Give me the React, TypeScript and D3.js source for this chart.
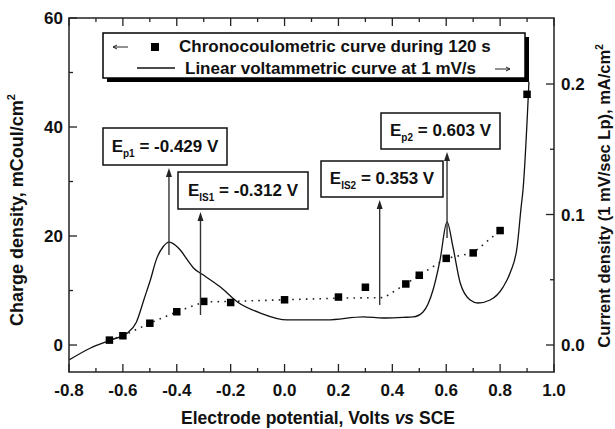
import React from 'react';
import * as d3 from 'd3';

const W = 615;
const H = 429;
const plot = { left: 69, right: 554, top: 18, bottom: 372 };

// Chronocoulometric charge density after 120 s (left axis, mCoul/cm²)
const chargePotential = [-0.65, -0.6, -0.5, -0.4, -0.3, -0.2, 0.0, 0.2, 0.3, 0.45, 0.5, 0.6, 0.7, 0.8, 0.9];
const chargeDensity = [0.9, 1.7, 4.0, 6.1, 8.0, 7.8, 8.3, 8.8, 10.6, 11.2, 12.8, 15.9, 16.9, 21.0, 46.0];

// Dotted guide drawn through the charge points
const guidePotential = [-0.65, -0.6, -0.5, -0.4, -0.3, -0.2, 0.0, 0.2, 0.37, 0.45, 0.5, 0.6, 0.7, 0.8];
const guideCharge = [0.9, 1.7, 4.0, 6.1, 7.9, 8.0, 8.3, 8.6, 8.7, 11.2, 12.8, 15.9, 16.9, 21.0];

// Linear sweep voltammogram at 1 mV/s (right axis, mA/cm²)
const voltPotential = [
  -0.8, -0.72, -0.646, -0.583, -0.55, -0.52, -0.498, -0.475, -0.45, -0.429, -0.405, -0.387, -0.36,
  -0.338, -0.301, -0.238, -0.175, -0.09, 0.01, 0.095, 0.158, 0.292, 0.366, 0.44, 0.477, 0.514,
  0.551, 0.577, 0.603, 0.625, 0.652, 0.689, 0.718, 0.763, 0.811, 0.837, 0.863, 0.878, 0.885, 0.907,
];
const voltCurrent = [
  -0.0115, -0.0023, 0.0038, 0.0092, 0.0175, 0.036, 0.0498, 0.066, 0.0755, 0.0789, 0.0765, 0.0728, 0.065,
  0.059, 0.0536, 0.0444, 0.033, 0.0245, 0.0192, 0.0192, 0.0192, 0.0215, 0.0207, 0.0212, 0.0215, 0.0253,
  0.0421, 0.0651, 0.0943, 0.0751, 0.0475, 0.0345, 0.0322, 0.0345, 0.0444, 0.0552, 0.0751, 0.1057, 0.1188, 0.2015,
];

// Axis ticks
const xTicks = [-0.8, -0.6, -0.4, -0.2, 0.0, 0.2, 0.4, 0.6, 0.8, 1.0];
const xMinorTicks = [-0.7, -0.5, -0.3, -0.1, 0.1, 0.3, 0.5, 0.7, 0.9];
const leftTicks = [0, 20, 40, 60];
const leftMinorTicks = [10, 30, 50];
const rightTicks = [0.0, 0.1, 0.2];
const rightMinorTicks = [0.05, 0.15];

// Characteristic potentials (V) and where their arrows start on the current axis
const markerKeys = ['p1', 'IS1', 'IS2', 'p2'];
const markerPotentials = [-0.429, -0.312, 0.353, 0.603];
const markerBaseCurrent = [0.069, 0.023, 0.0307, 0.082];

const FONT = '"Liberation Sans", Arial, Helvetica, sans-serif';

export default function App() {
  const x = d3.scaleLinear().domain([-0.8, 1.0]).range([plot.left, plot.right]);
  const yL = d3.scaleLinear().domain([-4.95, 60]).range([plot.bottom, plot.top]);
  const yR = d3.scaleLinear().domain([-0.0207, 0.2506]).range([plot.bottom, plot.top]);

  const voltLine = d3
    .line<number>()
    .x((_, i) => x(voltPotential[i]))
    .y((d) => yR(d))
    .curve(d3.curveMonotoneX)(voltCurrent) as string;

  const guideLine = d3
    .line<number>()
    .x((_, i) => x(guidePotential[i]))
    .y((d) => yL(d))(guideCharge) as string;

  // annotation box layout (pixels)
  const boxes = [
    { x: 103, y: 128, w: 124, h: 37, text: ' = -0.429 V' },
    { x: 178, y: 172, w: 130, h: 37, text: ' = -0.312 V' },
    { x: 321, y: 161, w: 122, h: 36, text: ' = 0.353 V' },
    { x: 381, y: 113, w: 119, h: 36, text: ' = 0.603 V' },
  ];

  const ms = 7.5;

  return (
    <svg
      width={W}
      height={H}
      viewBox={`0 0 ${W} ${H}`}
      style={{ position: 'absolute', left: 0, top: 0, background: '#fff' }}
      fontFamily={FONT}
    >
      <rect x={0} y={0} width={W} height={H} fill="#fff" />
      <defs>
        <clipPath id="plotClip">
          <rect x={plot.left} y={plot.top} width={plot.right - plot.left} height={plot.bottom - plot.top} />
        </clipPath>
      </defs>

      {/* voltammogram */}
      <path d={voltLine} fill="none" stroke="#111" strokeWidth={1.3} clipPath="url(#plotClip)" />

      {/* dotted guide through charge points */}
      <path d={guideLine} fill="none" stroke="#222" strokeWidth={1.6} strokeDasharray="1.6 5.2" />

      {/* charge squares */}
      {chargeDensity.map((v, i) => (
        <rect
          key={i}
          x={x(chargePotential[i]) - ms / 2}
          y={yL(v) - ms / 2}
          width={ms}
          height={ms}
          fill="#000"
        />
      ))}

      {/* annotation arrows */}
      {markerPotentials.map((p, i) => {
        const ax = x(p);
        const tipY = boxes[i].y + boxes[i].h + 3;
        const baseY = yR(markerBaseCurrent[i]);
        return (
          <g key={markerKeys[i]}>
            <line x1={ax} x2={ax} y1={baseY} y2={tipY + 6} stroke="#333" strokeWidth={1.4} />
            <path d={`M${ax},${tipY} L${ax - 3},${tipY + 9} L${ax + 3},${tipY + 9} Z`} fill="#222" />
          </g>
        );
      })}

      {/* annotation boxes */}
      {boxes.map((b, i) => (
        <g key={markerKeys[i]}>
          <rect x={b.x} y={b.y} width={b.w} height={b.h} fill="#fff" stroke="#111" strokeWidth={1.5} />
          <text
            x={b.x + b.w / 2}
            y={b.y + b.h / 2 + 5}
            textAnchor="middle"
            fontWeight="bold"
            fontSize={17}
            fill="#111"
          >
            <tspan>E</tspan>
            <tspan fontSize={10} dy={5}>
              {markerKeys[i]}
            </tspan>
            <tspan dy={-5}>{b.text}</tspan>
          </text>
        </g>
      ))}

      {/* frame */}
      <rect
        x={plot.left}
        y={plot.top}
        width={plot.right - plot.left}
        height={plot.bottom - plot.top}
        fill="none"
        stroke="#222"
        strokeWidth={1.5}
      />

      {/* bottom & top ticks */}
      {xTicks.map((t) => (
        <g key={`xt${t}`}>
          <line x1={x(t)} x2={x(t)} y1={plot.bottom} y2={plot.bottom - 8} stroke="#222" strokeWidth={1.3} />
          <line x1={x(t)} x2={x(t)} y1={plot.top} y2={plot.top + 8} stroke="#222" strokeWidth={1.3} />
          <text x={x(t)} y={396} textAnchor="middle" fontWeight="bold" fontSize={17} fill="#111">
            {t.toFixed(1)}
          </text>
        </g>
      ))}
      {xMinorTicks.map((t) => (
        <g key={`xm${t}`}>
          <line x1={x(t)} x2={x(t)} y1={plot.bottom} y2={plot.bottom - 4} stroke="#222" strokeWidth={1.3} />
          <line x1={x(t)} x2={x(t)} y1={plot.top} y2={plot.top + 4} stroke="#222" strokeWidth={1.3} />
        </g>
      ))}

      {/* left ticks */}
      {leftTicks.map((t) => (
        <g key={`lt${t}`}>
          <line x1={plot.left} x2={plot.left + 8} y1={yL(t)} y2={yL(t)} stroke="#222" strokeWidth={1.3} />
          <text x={63} y={yL(t) + 6} textAnchor="end" fontWeight="bold" fontSize={17} fill="#111">
            {t}
          </text>
        </g>
      ))}
      {leftMinorTicks.map((t) => (
        <line key={`lm${t}`} x1={plot.left} x2={plot.left + 4} y1={yL(t)} y2={yL(t)} stroke="#222" strokeWidth={1.3} />
      ))}

      {/* right ticks */}
      {rightTicks.map((t) => (
        <g key={`rt${t}`}>
          <line x1={plot.right} x2={plot.right - 8} y1={yR(t)} y2={yR(t)} stroke="#222" strokeWidth={1.3} />
          <text x={561} y={yR(t) + 6} textAnchor="start" fontWeight="bold" fontSize={17} fill="#111">
            {t.toFixed(1)}
          </text>
        </g>
      ))}
      {rightMinorTicks.map((t) => (
        <line key={`rm${t}`} x1={plot.right} x2={plot.right - 4} y1={yR(t)} y2={yR(t)} stroke="#222" strokeWidth={1.3} />
      ))}

      {/* legend */}
      <rect x={107} y={37} width={422} height={45} fill="#000" />
      <rect x={103} y={33} width={422} height={45} fill="#fff" stroke="#000" strokeWidth={1.5} />
      <path d="M113,47 L128,47 M113,47 L117,45 M113,47 L117,49" stroke="#222" strokeWidth={1} fill="none" />
      <rect x={151} y={43} width={8} height={8} fill="#000" />
      <text x={179} y={52} fontWeight="bold" fontSize={17} fill="#111">
        Chronocoulometric curve during 120 s
      </text>
      <line x1={137} x2={175} y1={68} y2={68} stroke="#111" strokeWidth={1.3} />
      <text x={185} y={74} fontWeight="bold" fontSize={17} fill="#111">
        Linear voltammetric curve at 1 mV/s
      </text>
      <path d="M495,69 L510,69 M510,69 L506,67 M510,69 L506,71" stroke="#222" strokeWidth={1} fill="none" />

      {/* axis titles */}
      <text transform="translate(23,210) rotate(-90)" textAnchor="middle" fontWeight="bold" fontSize={18} fill="#111">
        Charge density, mCoul/cm
        <tspan fontSize={11} dy={-8}>
          2
        </tspan>
      </text>
      <text transform="translate(610,196) rotate(-90)" textAnchor="middle" fontWeight="bold" fontSize={16.5} fill="#111">
        Current density (1 mV/sec Lp), mA/cm
        <tspan fontSize={10} dy={-7}>
          2
        </tspan>
      </text>
      <text x={318} y={424} textAnchor="middle" fontWeight="bold" fontSize={17.5} fill="#111">
        Electrode potential, Volts <tspan fontStyle="italic">vs</tspan> SCE
      </text>
    </svg>
  );
}
